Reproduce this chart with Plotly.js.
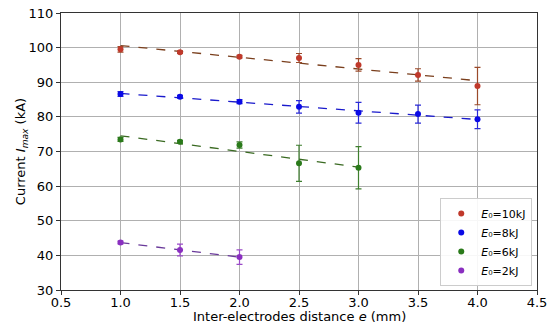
<!DOCTYPE html>
<html><head><meta charset="utf-8">
<script src="https://cdn.plot.ly/plotly-3.0.1.min.js"></script>
<style>body{margin:0;padding:0;background:#fff}#chart{width:550px;height:329px}</style>
</head><body><div id="chart"></div>
<script>
// Data
const x10 = [1.0, 1.5, 2.0, 2.5, 3.0, 3.5, 4.0];
const y10 = [99.5, 98.7, 97.4, 97.0, 95.0, 92.1, 88.9];
const e10 = [0.8, 0.4, 0.4, 1.3, 1.8, 1.8, 5.4];

const x8 = [1.0, 1.5, 2.0, 2.5, 3.0, 3.5, 4.0];
const y8 = [86.6, 85.8, 84.4, 82.9, 81.2, 80.8, 79.3];
const e8 = [0.7, 0.4, 0.6, 1.8, 3.0, 2.6, 2.7];

const x6 = [1.0, 1.5, 2.0, 2.5, 3.0];
const y6 = [73.5, 72.8, 71.9, 66.6, 65.3];
const e6 = [0.6, 0.4, 0.9, 5.2, 6.1];

const x2 = [1.0, 1.5, 2.0];
const y2 = [43.7, 41.55, 39.5];
const e2 = [0.4, 1.7, 2.1];

const labels = ["<i>E</i>₀=10kJ", "<i>E</i>₀=8kJ", "<i>E</i>₀=6kJ", "<i>E</i>₀=2kJ"];
const xTitle = 'Inter-electrodes distance <i>e</i> (mm)';
const yTitle = 'Current <i>I</i><sub><i>max</i></sub> (kA)';

function fit(xs, ys) {
  const n = xs.length;
  const mx = xs.reduce((a,b)=>a+b,0)/n, my = ys.reduce((a,b)=>a+b,0)/n;
  let sxy=0, sxx=0;
  for (let i=0;i<n;i++){ sxy+=(xs[i]-mx)*(ys[i]-my); sxx+=(xs[i]-mx)**2; }
  const m = sxy/sxx, b = my - m*mx;
  const xe = [xs[0], xs[n-1]];
  return {x: xe, y: xe.map(v=>m*v+b)};
}

const series = [
  {x:x10, y:y10, e:e10, name:labels[0], mc:'#c0392b', lc:'#7a3f1d', ec:'#9a4a2a'},
  {x:x8, y:y8, e:e8, name:labels[1], mc:'#0a0ae6', lc:'#1a1acc', ec:'#2a2ad8'},
  {x:x6, y:y6, e:e6, name:labels[2], mc:'#2a7a1a', lc:'#3a6a22', ec:'#3f7f2f'},
  {x:x2, y:y2, e:e2, name:labels[3], mc:'#8a2fc0', lc:'#6a3a9a', ec:'#9a4ac8'}
];

const traces = [];
series.forEach(s => {
  const f = fit(s.x, s.y);
  traces.push({x:f.x, y:f.y, mode:'lines', line:{color:s.lc, width:1.3, dash:'dash'}, showlegend:false, hoverinfo:'skip'});
});
series.forEach(s => {
  traces.push({x:s.x, y:s.y, mode:'markers', name:s.name,
    marker:{color:s.mc, size:6},
    error_y:{type:'data', array:s.e, visible:true, color:s.ec, thickness:1.2, width:3}});
});

const layout = {
  width:550, height:329,
  margin:{l:61, r:13, t:13, b:39},
  paper_bgcolor:'#fff', plot_bgcolor:'#fff',
  font:{family:'DejaVu Sans', size:13, color:'#000'},
  xaxis:{range:[0.5,4.5], dtick:0.5, tickformat:'.1f', showgrid:true, gridcolor:'#b0b0b0', gridwidth:1,
    showline:true, linecolor:'#333', linewidth:1, mirror:true, ticks:'outside', ticklen:4, tickcolor:'#333',
    zeroline:false, tickfont:{size:13}, ticklabelstandoff:-4},
  yaxis:{range:[30,110], dtick:10, showgrid:true, gridcolor:'#b0b0b0', gridwidth:1,
    showline:true, linecolor:'#333', linewidth:1, mirror:true, ticks:'outside', ticklen:4, tickcolor:'#333',
    zeroline:false, title:{text:yTitle, font:{size:13}},
    tickfont:{size:13}},
  annotations:[{text:xTitle, xref:'paper', yref:'paper', x:0.5, y:0, xanchor:'center', yanchor:'middle',
    yshift:-26, showarrow:false, font:{size:13}}],
  legend:{x:0.99, y:0.014, xanchor:'right', yanchor:'bottom', bordercolor:'#cccccc', borderwidth:1,
    bgcolor:'rgba(255,255,255,0.9)', font:{size:11}, itemwidth:30, tracegroupgap:0},
  showlegend:true
};

Plotly.newPlot('chart', traces, layout, {displayModeBar:false, staticPlot:true});
</script></body></html>
